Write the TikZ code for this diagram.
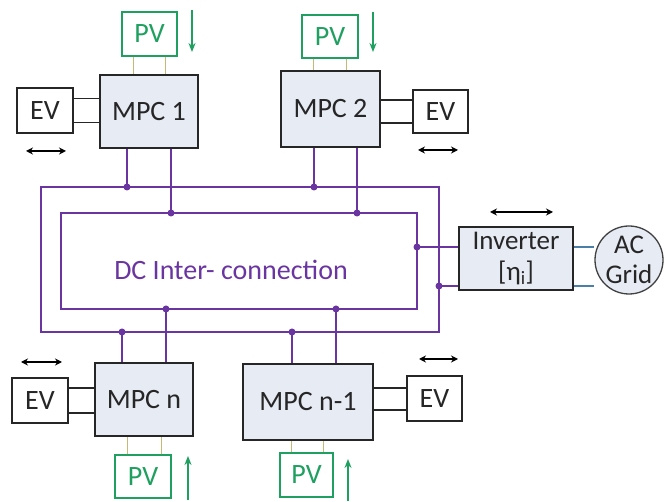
\documentclass[tikz,border=0pt]{standalone}
\usepackage{fontspec}
\setmainfont{Carlito}
\usetikzlibrary{arrows.meta}
\definecolor{bus}{HTML}{6A35A0}
\definecolor{pvg}{HTML}{1FA060}
\definecolor{boxfill}{HTML}{E6EBF4}
\definecolor{txt}{HTML}{262626}
\definecolor{pvline}{HTML}{C8B878}
\definecolor{acline}{HTML}{4A7FA8}
\tikzset{
  bigfont/.style={font=\fontsize{28}{31}\selectfont},
  mpc/.style={draw=black!85, line width=1.6pt, fill=boxfill, text=txt, inner sep=0pt, bigfont},
  evbox/.style={draw=black!85, line width=1.4pt, fill=white, text=txt, inner sep=0pt, bigfont},
  pvbox/.style={draw=pvg, line width=1.3pt, fill=white, text=pvg, inner sep=0pt, bigfont},
  evlink/.style={draw=black!85, line width=1.4pt},
  pvlink/.style={draw=pvline, line width=1pt},
  bline/.style={draw=bus, line width=2.8pt},
  dot/.style={fill=bus, draw=none, circle, minimum size=7pt, inner sep=0pt},
  dbl/.style={{Stealth[length=7pt,width=7pt]}-{Stealth[length=7pt,width=7pt]}, line width=1.4pt, black},
  pvarrow/.style={-{Stealth[length=9pt,width=7pt]}, line width=1.6pt, pvg},
  acl/.style={draw=acline, line width=1.6pt}
}
\begin{document}
\begin{tikzpicture}[x=1pt,y=-1pt]
\useasboundingbox (0,0) rectangle (667,502);
% bus rectangles
\coordinate (oNW) at (41,187); \coordinate (oSE) at (439,332);
\coordinate (iNW) at (61,213); \coordinate (iSE) at (417,309);
\draw[bline] (oNW) rectangle (oSE);
\draw[bline] (iNW) rectangle (iSE);
\node[text=bus, bigfont] (dc) at (231,270) {DC Inter- connection};

% MPC boxes
\node[mpc, minimum width=98pt, minimum height=73pt] (m1) at (149,111.5) {MPC 1};
\node[mpc, minimum width=99pt, minimum height=76pt] (m2) at (330.5,109) {MPC 2};
\node[mpc, minimum width=98pt, minimum height=73pt] (mn) at (144,399.5) {MPC n};
\node[mpc, minimum width=130pt, minimum height=76pt] (mn1) at (308,402) {MPC n-1};

% EV boxes
\node[evbox, minimum width=56pt, minimum height=45pt] (e1) at (45,110.5) {EV};
\node[evbox, minimum width=55pt, minimum height=43pt] (e2) at (440.5,111.5) {EV};
\node[evbox, minimum width=56pt, minimum height=45pt] (en) at (40,400.5) {EV};
\node[evbox, minimum width=55pt, minimum height=45pt] (en1) at (434.5,398.5) {EV};

% PV boxes
\node[pvbox, minimum width=55pt, minimum height=44pt] (p1) at (149.5,34) {PV};
\node[pvbox, minimum width=56pt, minimum height=43pt] (p2) at (330,36.5) {PV};
\node[pvbox, minimum width=56pt, minimum height=43pt] (pn) at (143,476.5) {PV};
\node[pvbox, minimum width=53pt, minimum height=44pt] (pn1) at (306.5,475) {PV};

% Inverter and grid
\node[mpc, minimum width=114pt, minimum height=63pt, align=center, font=\fontsize{27}{31}\selectfont] (inv) at (516,258.5) {Inverter\\{[}η\textsubscript{i}{]}};
\node[circle, draw=black!75, line width=1.3pt, fill=boxfill, text=txt, minimum size=68pt, inner sep=0pt, align=center, font=\fontsize{27}{30}\selectfont] (ac) at (629,260) {AC\\Grid};

% EV links
\draw[evlink] ([yshift=12pt]e1.east) -- ([yshift=12pt]e1.east -| m1.west);
\draw[evlink] ([yshift=-12pt]e1.east) -- ([yshift=-12pt]e1.east -| m1.west);
\draw[evlink] ([yshift=11.5pt]e2.west) -- ([yshift=11.5pt]e2.west -| m2.east);
\draw[evlink] ([yshift=-11.5pt]e2.west) -- ([yshift=-11.5pt]e2.west -| m2.east);
\draw[evlink] ([yshift=12.5pt]en.east) -- ([yshift=12.5pt]en.east -| mn.west);
\draw[evlink] ([yshift=-12.5pt]en.east) -- ([yshift=-12.5pt]en.east -| mn.west);
\draw[evlink] ([yshift=10.5pt]en1.west) -- ([yshift=10.5pt]en1.west -| mn1.east);
\draw[evlink] ([yshift=-11.5pt]en1.west) -- ([yshift=-11.5pt]en1.west -| mn1.east);

% PV links
\draw[pvlink] ([xshift=-16pt]p1.south) -- ([xshift=-16pt]p1.south |- m1.north);
\draw[pvlink] ([xshift=16pt]p1.south) -- ([xshift=16pt]p1.south |- m1.north);
\draw[pvlink] ([xshift=-17pt]p2.south) -- ([xshift=-17pt]p2.south |- m2.north);
\draw[pvlink] ([xshift=16pt]p2.south) -- ([xshift=16pt]p2.south |- m2.north);
\draw[pvlink] ([xshift=-16pt]pn.north) -- ([xshift=-16pt]pn.north |- mn.south);
\draw[pvlink] ([xshift=18pt]pn.north) -- ([xshift=18pt]pn.north |- mn.south);
\draw[pvlink] ([xshift=-15.5pt]pn1.north) -- ([xshift=-15.5pt]pn1.north |- mn1.south);
\draw[pvlink] ([xshift=16.5pt]pn1.north) -- ([xshift=16.5pt]pn1.north |- mn1.south);

% green arrows
\coordinate (g1a) at (192,10); \coordinate (g1b) at (192,52);
\coordinate (g2a) at (373,12); \coordinate (g2b) at (373,52);
\coordinate (g3a) at (188,500); \coordinate (g3b) at (188,456);
\coordinate (g4a) at (348,501); \coordinate (g4b) at (348,459);
\draw[pvarrow] (g1a) -- (g1b);
\draw[pvarrow] (g2a) -- (g2b);
\draw[pvarrow] (g3a) -- (g3b);
\draw[pvarrow] (g4a) -- (g4b);

% EV double arrows
\coordinate (a1l) at (26,151); \coordinate (a1r) at (66,151);
\coordinate (a2l) at (418,150); \coordinate (a2r) at (458,150);
\coordinate (a3l) at (21,362); \coordinate (a3r) at (62,362);
\coordinate (a4l) at (419,359); \coordinate (a4r) at (458,359);
\coordinate (a5l) at (490,212); \coordinate (a5r) at (553,212);
\draw[dbl] (a1l) -- (a1r);
\draw[dbl] (a2l) -- (a2r);
\draw[dbl] (a3l) -- (a3r);
\draw[dbl] (a4l) -- (a4r);
\draw[dbl] (a5l) -- (a5r);

% bus taps
\coordinate (t1) at (127,187); \coordinate (t2) at (171,213);
\coordinate (t3) at (314,187); \coordinate (t4) at (357,213);
\coordinate (t5) at (122,332); \coordinate (t6) at (166,309);
\coordinate (t7) at (292,332); \coordinate (t8) at (336,309);
\draw[bline] (m1.south -| t1) -- (t1);
\draw[bline] (m1.south -| t2) -- (t2);
\draw[bline] (m2.south -| t3) -- (t3);
\draw[bline] (m2.south -| t4) -- (t4);
\draw[bline] (mn.north -| t5) -- (t5);
\draw[bline] (mn.north -| t6) -- (t6);
\draw[bline] (mn1.north -| t7) -- (t7);
\draw[bline] (mn1.north -| t8) -- (t8);
\coordinate (t9) at (417,247); \coordinate (t10) at (439,286);
\draw[bline, line width=2.2pt] (t9) -- (t9 -| inv.west);
\draw[bline, line width=2.2pt] (t10) -- (t10 -| inv.west);
\foreach \t in {t1,t2,t3,t4,t5,t6,t7,t8,t9,t10} \node[dot] at (\t) {};

% AC links
\coordinate (c1) at (0,247); \coordinate (c2) at (0,286);
\draw[acl] (inv.east |- c1) -- (ac.west |- c1);
\draw[acl] (inv.east |- c2) -- (ac.west |- c2);
\end{tikzpicture}
\end{document}
